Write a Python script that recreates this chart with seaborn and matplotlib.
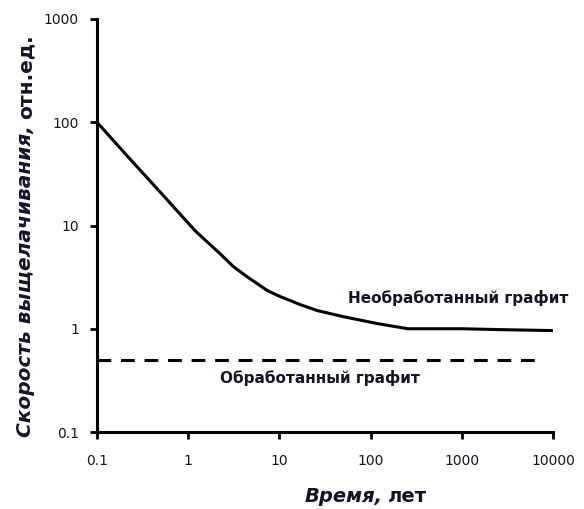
import matplotlib
matplotlib.use("Agg")
import matplotlib.pyplot as plt
import seaborn as sns
import pandas as pd

# Data
time_untreated = [0.1, 0.22, 0.52, 1.19, 2.25, 3.13, 4.4, 7.4, 10.2, 17, 26, 50, 120, 257, 1000, 2700, 10000]
rate_untreated = [100, 46, 20, 8.9, 5.3, 4.0, 3.2, 2.34, 2.05, 1.71, 1.5, 1.31, 1.12, 1.0, 1.0, 0.98, 0.96]
time_treated = [0.1, 8000]
rate_treated = [0.5, 0.5]
x_ticks = [0.1, 1, 10, 100, 1000, 10000]
x_tick_labels = ["0.1", "1", "10", "100", "1000", "10000"]
y_ticks = [0.1, 1, 10, 100, 1000]
y_tick_labels = ["0.1", "1", "10", "100", "1000"]
label_untreated = "Необработанный графит"
label_treated = "Обработанный графит"

sns.set_style("ticks")
plt.rcParams["font.family"] = ["DejaVu Sans"]
TXT = "#141428"

W, H = 584, 509
fig = plt.figure(figsize=(W / 100, H / 100), dpi=100)
ax = fig.add_axes([97 / W, 1 - 432 / H, (553 - 97) / W, (432 - 19) / H])

df_u = pd.DataFrame({"t": time_untreated, "r": rate_untreated})
df_t = pd.DataFrame({"t": time_treated, "r": rate_treated})
sns.lineplot(data=df_u, x="t", y="r", ax=ax, color="black", linewidth=2.2, sort=False)
sns.lineplot(data=df_t, x="t", y="r", ax=ax, color="black", linewidth=2.2,
             linestyle=(0, (4.5, 3.2)), sort=False)

ax.set_xscale("log")
ax.set_yscale("log")
ax.set_xlim(0.1, 10000)
ax.set_ylim(0.1, 1000)
ax.set_xticks(x_ticks)
ax.set_xticklabels(x_tick_labels)
ax.set_yticks(y_ticks)
ax.set_yticklabels(y_tick_labels)
ax.minorticks_off()
ax.set_xlabel("")
ax.set_ylabel("")
for s in ["top", "right"]:
    ax.spines[s].set_visible(False)
for s in ["left", "bottom"]:
    ax.spines[s].set_linewidth(2.2)
    ax.spines[s].set_color("black")
ax.tick_params(axis="both", which="major", direction="out", length=5, width=2,
               color="black", labelsize=10, labelcolor=TXT)
ax.tick_params(axis="x", pad=11)
ax.tick_params(axis="y", pad=8)
ax.patch.set_alpha(0)

ax.text(912, 2.0, label_untreated, fontsize=11, fontweight="bold", color=TXT,
        ha="center", va="center")
ax.text(28, 0.334, label_treated, fontsize=11, fontweight="bold", color=TXT,
        ha="center", va="center")

# Axis labels with mixed italic / upright pieces
t1 = fig.text(26 / W, 1 - 437 / H, "Скорость выщелачивания,", rotation=90,
              fontsize=14.5, fontweight="bold", fontstyle="italic", color=TXT,
              ha="center", va="bottom")
x1 = fig.text(305 / W, 1 - 497 / H, "Время,", fontsize=14, fontweight="bold",
              fontstyle="italic", color=TXT, ha="left", va="center")
fig.canvas.draw()
r = fig.canvas.get_renderer()
bb = t1.get_window_extent(r)
fig.text(26 / W, (bb.y1 + 6) / H, "отн.ед.", rotation=90, fontsize=14.5,
         fontweight="bold", color=TXT, ha="center", va="bottom")
bx = x1.get_window_extent(r)
fig.text((bx.x1 + 5) / W, 1 - 497 / H, "лет", fontsize=14, fontweight="bold",
         color=TXT, ha="left", va="center")

fig.savefig("out.png", dpi=100)
